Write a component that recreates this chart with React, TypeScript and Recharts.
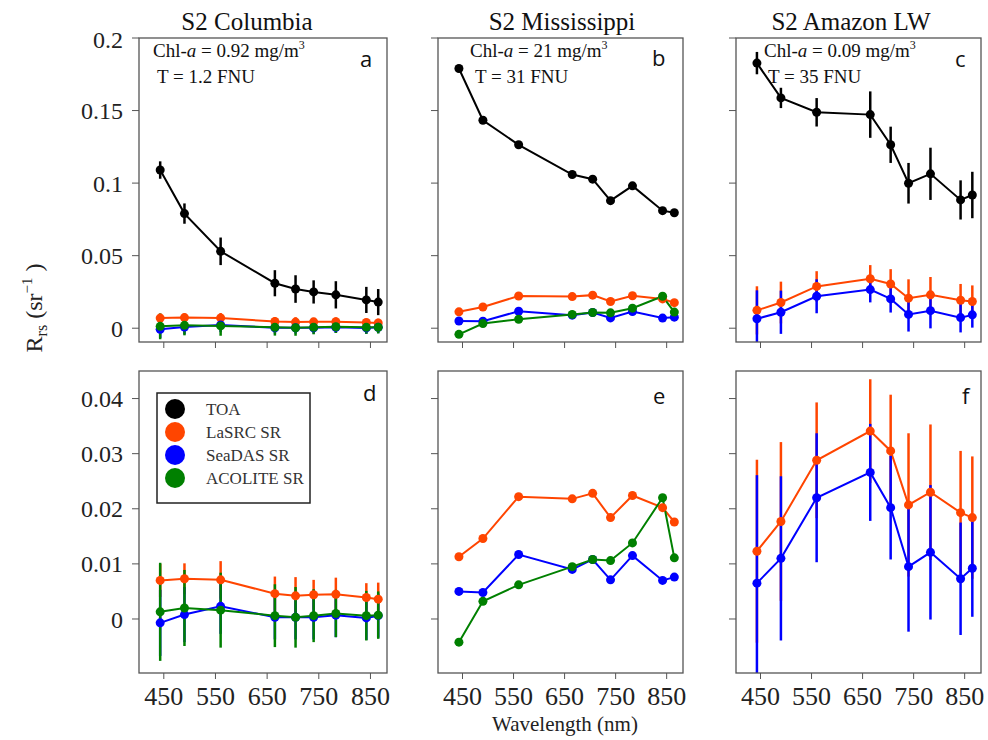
import React from 'react';
import { LineChart, Line, XAxis, YAxis, ErrorBar } from 'recharts';

// Sentinel-2 band centres (nm)
const wavelengths = [443, 490, 560, 665, 705, 740, 783, 842, 865];
const xTicks = [450, 550, 650, 750, 850];
const topTicks = [0, 0.05, 0.1, 0.15, 0.2];
const bottomTicks = [0, 0.01, 0.02, 0.03, 0.04];

// S2 Columbia
const colToa = [0.109, 0.079, 0.053, 0.031, 0.027, 0.025, 0.023, 0.0195, 0.018];
const colToaErr = [0.006, 0.007, 0.0095, 0.009, 0.0095, 0.008, 0.0094, 0.009, 0.009];
const colLasrc = [0.007, 0.0073, 0.0071, 0.0046, 0.0042, 0.0044, 0.0045, 0.0039, 0.0036];
const colLasrcErr = [0.003, 0.0028, 0.0034, 0.0031, 0.0034, 0.0027, 0.003, 0.0026, 0.003];
const colSeadas = [-0.0007, 0.0008, 0.0023, 0.0003, 0.0003, 0.0003, 0.0007, 0.0002, 0.0006];
const colSeadasErr = [0.006, 0.005, 0.005, 0.004, 0.004, 0.004, 0.004, 0.004, 0.004];
const colAcolite = [0.0013, 0.002, 0.0016, 0.0006, 0.0003, 0.0006, 0.001, 0.0006, 0.0007];
const colAcoliteErr = [0.0089, 0.0069, 0.0068, 0.0057, 0.0055, 0.0048, 0.0043, 0.0045, 0.0043];

// S2 Mississippi (single scene, no error bars)
const misToa = [0.179, 0.1433, 0.1264, 0.1059, 0.1027, 0.0879, 0.0981, 0.081, 0.0796];
const misLasrc = [0.0113, 0.0146, 0.0222, 0.0218, 0.0228, 0.0184, 0.0224, 0.0202, 0.0176];
const misSeadas = [0.005, 0.0048, 0.0117, 0.009, 0.0108, 0.0071, 0.0115, 0.007, 0.0076];
const misAcolite = [-0.0042, 0.0032, 0.0062, 0.0095, 0.0108, 0.0106, 0.0138, 0.022, 0.0111];

// S2 Amazon LW (no ACOLITE)
const amzToa = [0.1827, 0.1587, 0.1488, 0.1472, 0.1264, 0.0999, 0.1064, 0.0884, 0.0918];
const amzToaErr = [0.0077, 0.007, 0.0098, 0.016, 0.0125, 0.014, 0.018, 0.0135, 0.016];
const amzLasrc = [0.0123, 0.0177, 0.0288, 0.0341, 0.0305, 0.0207, 0.023, 0.0193, 0.0184];
const amzLasrcErr = [0.0166, 0.0144, 0.0105, 0.0094, 0.0102, 0.013, 0.0123, 0.0112, 0.0111];
const amzSeadas = [0.0065, 0.011, 0.022, 0.0266, 0.0202, 0.0095, 0.0121, 0.0073, 0.0092];
const amzSeadasErr = [0.0196, 0.0149, 0.0117, 0.0088, 0.0094, 0.0118, 0.0122, 0.0102, 0.0088];

const series = [
  { key: 'toa', name: 'TOA', color: '#000000' },
  { key: 'lasrc', name: 'LaSRC SR', color: '#ff4500' },
  { key: 'seadas', name: 'SeaDAS SR', color: '#0000ff' },
  { key: 'acolite', name: 'ACOLITE SR', color: '#008000' },
];

type Cols = Record<string, number[] | undefined>;

function buildRows(cols: Cols) {
  return wavelengths.map((w, i) => {
    const row: Record<string, number> = { w };
    Object.keys(cols).forEach((k) => {
      const arr = cols[k];
      if (arr) row[k] = arr[i];
    });
    return row;
  });
}

const colRows = buildRows({
  toa: colToa, toaErr: colToaErr, lasrc: colLasrc, lasrcErr: colLasrcErr,
  seadas: colSeadas, seadasErr: colSeadasErr, acolite: colAcolite, acoliteErr: colAcoliteErr,
});
const misRows = buildRows({ toa: misToa, lasrc: misLasrc, seadas: misSeadas, acolite: misAcolite });
const amzRows = buildRows({
  toa: amzToa, toaErr: amzToaErr, lasrc: amzLasrc, lasrcErr: amzLasrcErr,
  seadas: amzSeadas, seadasErr: amzSeadasErr,
});

const FONT = '"Liberation Serif", "Times New Roman", serif';
const SANS = '"Open Sans", "Liberation Sans", sans-serif';
const AXIS = '#555';
const X_DOMAIN: [number, number] = [402, 882];

type PanelProps = {
  x: number; y: number; w: number; h: number;
  rows: Record<string, number>[];
  keys: string[];
  errKeys: string[];
  yDomain: [number, number];
  yTicks: number[];
  yLabels: boolean;
  xLabels: boolean;
};

// asymmetric error, cut at the panel edges so bars stop at the frame
const clippedErr = (key: string, dom: [number, number]) => (row: Record<string, number>) => {
  const v = row[key];
  const e = row[key + 'Err'];
  return [Math.max(0, Math.min(e, v - dom[0])), Math.max(0, Math.min(e, dom[1] - v))];
};

function Panel({ x, y, w, h, rows, keys, errKeys, yDomain, yTicks, yLabels, xLabels }: PanelProps) {
  const ML = 80, MT = 12, MR = 12, XH = 45;
  return (
    <div style={{ position: 'absolute', left: x - ML, top: y - MT }}>
      <LineChart
        width={ML + w + MR}
        height={MT + h + XH}
        data={rows}
        margin={{ top: MT, right: MR, bottom: 0, left: 0 }}
      >
        <XAxis
          dataKey="w"
          type="number"
          domain={X_DOMAIN}
          ticks={xTicks}
          height={XH}
          axisLine={false}
          tickLine={{ stroke: AXIS }}
          tickSize={6}
          tickMargin={8}
          tick={{ fontSize: 26, fill: '#222', fontFamily: FONT }}
          tickFormatter={(v) => (xLabels ? String(v) : '')}
        />
        <YAxis
          type="number"
          domain={yDomain}
          allowDataOverflow
          ticks={yTicks}
          width={ML}
          axisLine={false}
          tickLine={{ stroke: AXIS }}
          tickSize={7}
          tickMargin={9}
          tick={{ fontSize: 24, fill: '#222', fontFamily: FONT }}
          tickFormatter={(v) => (yLabels ? String(v) : '')}
        />
        {series
          .filter((s) => keys.includes(s.key))
          .map((s) => (
            <Line
              key={s.key}
              dataKey={s.key}
              stroke={s.color}
              strokeWidth={2}
              dot={{ r: 4.5, fill: s.color, stroke: s.color, strokeWidth: 0 }}
              activeDot={false}
              isAnimationActive={false}
            >
              {errKeys.includes(s.key) && (
                <ErrorBar
                  dataKey={clippedErr(s.key, yDomain)}
                  direction="y"
                  width={0}
                  stroke={s.color}
                  strokeWidth={2.5}
                  isAnimationActive={false}
                />
              )}
            </Line>
          ))}
      </LineChart>
    </div>
  );
}

const TOP: [number, number] = [-0.0095, 0.2];
const BOTTOM: [number, number] = [-0.0098, 0.045];

const panels = [
  { id: 'a', x: 139, y: 38, w: 248, h: 304, rows: colRows, keys: ['toa', 'lasrc', 'seadas', 'acolite'], errKeys: ['toa', 'lasrc', 'seadas', 'acolite'], yDomain: TOP, yTicks: topTicks, yLabels: true, xLabels: false },
  { id: 'b', x: 438, y: 38, w: 245, h: 304, rows: misRows, keys: ['toa', 'lasrc', 'seadas', 'acolite'], errKeys: [], yDomain: TOP, yTicks: topTicks, yLabels: false, xLabels: false },
  { id: 'c', x: 736, y: 38, w: 245, h: 304, rows: amzRows, keys: ['toa', 'lasrc', 'seadas'], errKeys: ['toa', 'lasrc', 'seadas'], yDomain: TOP, yTicks: topTicks, yLabels: false, xLabels: false },
  { id: 'd', x: 139, y: 371, w: 248, h: 302, rows: colRows, keys: ['lasrc', 'seadas', 'acolite'], errKeys: ['lasrc', 'seadas', 'acolite'], yDomain: BOTTOM, yTicks: bottomTicks, yLabels: true, xLabels: true },
  { id: 'e', x: 438, y: 371, w: 245, h: 302, rows: misRows, keys: ['lasrc', 'seadas', 'acolite'], errKeys: [], yDomain: BOTTOM, yTicks: bottomTicks, yLabels: false, xLabels: true },
  { id: 'f', x: 736, y: 371, w: 245, h: 302, rows: amzRows, keys: ['lasrc', 'seadas'], errKeys: ['lasrc', 'seadas'], yDomain: BOTTOM, yTicks: bottomTicks, yLabels: false, xLabels: true },
];

const letterPos: Record<string, [number, number]> = {
  a: [360, 67], b: [652, 66], c: [955, 67], d: [363, 401], e: [653, 404], f: [962, 404],
};

const titles = [
  { text: 'S2 Columbia', x: 247 },
  { text: 'S2 Mississippi', x: 562 },
  { text: 'S2 Amazon LW', x: 851 },
];

const notes = [
  { chl: '0.92', t: '1.2', x: 153, tx: 157 },
  { chl: '21', t: '31', x: 470, tx: 475 },
  { chl: '0.09', t: '35', x: 764, tx: 768 },
];

export default function App() {
  return (
    <div style={{ position: 'absolute', left: 0, top: 0, width: 988, height: 740, background: '#fff', fontFamily: FONT }}>
      {panels.map((p) => (
        <Panel key={p.id} {...p} />
      ))}
      <svg width={988} height={740} style={{ position: 'absolute', left: 0, top: 0, pointerEvents: 'none' }}>
        {panels.map((p) => (
          <rect key={p.id} x={p.x} y={p.y} width={p.w} height={p.h} fill="none" stroke={AXIS} strokeWidth={1.3} />
        ))}
        {titles.map((t) => (
          <text key={t.text} x={t.x} y={30} textAnchor="middle" fontSize={25} fill="#111" fontFamily={FONT}>
            {t.text}
          </text>
        ))}
        {notes.map((n) => (
          <g key={n.chl} fontFamily={FONT} fontSize={19} fill="#111">
            <text x={n.x} y={57}>
              Chl-<tspan fontStyle="italic">a</tspan> = {n.chl} mg/m<tspan dy={-8} fontSize={12}>3</tspan>
            </text>
            <text x={n.tx} y={83}>T = {n.t} FNU</text>
          </g>
        ))}
        {panels.map((p) => (
          <text key={p.id} x={letterPos[p.id][0]} y={letterPos[p.id][1]} fontSize={22} fontFamily={SANS} fill="#111">
            {p.id}
          </text>
        ))}
        <text transform="translate(42,308) rotate(-90)" textAnchor="middle" fontSize={24} fontFamily={FONT} fill="#222">
          R<tspan fontSize={16} dy={5}>rs</tspan>
          <tspan dy={-5}> (sr</tspan>
          <tspan fontSize={15} dy={-10}>−1</tspan>
          <tspan dy={10}> )</tspan>
        </text>
        <text x={565} y={731} textAnchor="middle" fontSize={21} fontFamily={FONT} fill="#222">
          Wavelength (nm)
        </text>
        <g>
          <rect x={157} y={393} width={153} height={110} fill="#fff" stroke="#222" strokeWidth={1.5} />
          {series.map((s, i) => (
            <g key={s.key}>
              <circle cx={175} cy={409 + i * 23} r={10} fill={s.color} />
              <text x={206} y={415 + i * 23} fontSize={17} fontFamily={FONT} fill="#333">
                {s.name}
              </text>
            </g>
          ))}
        </g>
      </svg>
    </div>
  );
}
